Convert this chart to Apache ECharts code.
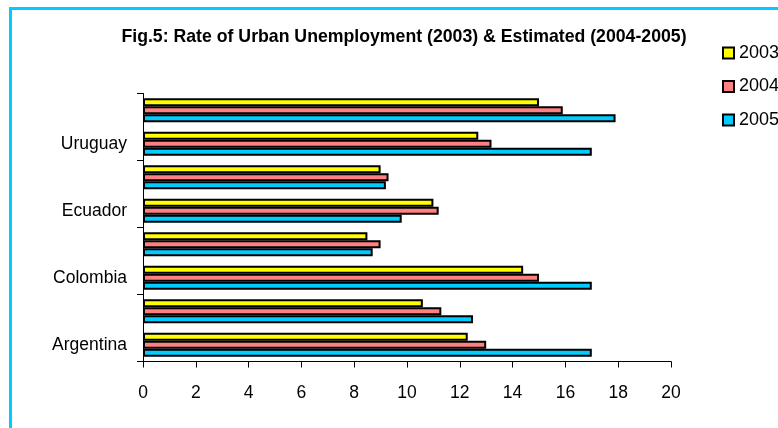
<!DOCTYPE html>
<html>
<head>
<meta charset="utf-8">
<script src="https://cdn.jsdelivr.net/npm/echarts@6/dist/echarts.min.js"></script>
<style>
html,body{margin:0;padding:0;background:#fff;}
#chart{width:778px;height:428px;}
</style>
</head>
<body>
<div id="chart"></div>
<script>
// Data (categories bottom to top)
const categories = ['Argentina', 'Brazil', 'Colombia', 'Chile', 'Ecuador', 'Mexico', 'Uruguay', 'Venezuela'];
const values2003 = [12.3, 10.6, 14.4, 8.5, 11.0, 9.0, 12.7, 15.0];
const values2004 = [13.0, 11.3, 15.0, 9.0, 11.2, 9.3, 13.2, 15.9];
const values2005 = [17.0, 12.5, 17.0, 8.7, 9.8, 9.2, 17.0, 17.9];
const xTicks = [0, 2, 4, 6, 8, 10, 12, 14, 16, 18, 20];
const titleText = 'Fig.5: Rate of Urban Unemployment (2003) & Estimated (2004-2005)';

const FONT = '"Liberation Sans Narrow", "Arial Narrow", "Liberation Sans", Arial, sans-serif';
const chart = echarts.init(document.getElementById('chart'), null, {renderer: 'canvas'});

function barSeries(name, data, color) {
  return {
    name: name,
    type: 'bar',
    data: data,
    barGap: '0%',
    barCategoryGap: '28%',
    itemStyle: {color: color, borderColor: '#000', borderWidth: 2},
    animation: false
  };
}

chart.setOption({
  backgroundColor: '#fff',
  animation: false,
  title: {
    text: titleText,
    left: 399, top: 23, textAlign: 'center',
    textStyle: {fontFamily: FONT, fontWeight: 'bold', fontSize: 17.7, color: '#000'}
  },
  legend: {
    orient: 'vertical',
    left: 717, top: 38,
    itemWidth: 11, itemHeight: 11, itemGap: 13.5,
    icon: 'rect',
    data: ['2003', '2004', '2005'],
    textStyle: {fontFamily: FONT, fontSize: 18, color: '#000', lineHeight: 20}
  },
  grid: {left: 143, right: 107, top: 93.5, bottom: 66.5, containLabel: false},
  xAxis: {
    type: 'value', min: 0, max: 20, interval: 2,
    axisLine: {show: true, lineStyle: {color: '#000', width: 1}},
    axisTick: {show: true, length: 6, lineStyle: {color: '#000'}},
    splitLine: {show: false},
    axisLabel: {
      margin: 23, fontFamily: FONT, fontSize: 17.5, color: '#000',
      formatter: function (v) { return xTicks.indexOf(v) >= 0 ? String(v) : ''; }
    }
  },
  yAxis: {
    type: 'category', data: categories,
    axisLine: {show: true, lineStyle: {color: '#000', width: 1}},
    axisTick: {show: true, length: 6, lineStyle: {color: '#000'}},
    axisLabel: {interval: 1, margin: 16, fontFamily: FONT, fontSize: 17.5, color: '#000', padding: [4, 0, 0, 0]}
  },
  series: [
    barSeries('2003', values2003, '#FFFF00'),
    barSeries('2004', values2004, '#FF8080'),
    barSeries('2005', values2005, '#00CCFF')
  ],
  graphic: [{
    type: 'rect', silent: true,
    shape: {x: 10.5, y: 8.5, width: 1000, height: 1000},
    style: {fill: 'none', stroke: '#00CCFF', lineWidth: 3}
  }]
});
</script>
</body>
</html>
